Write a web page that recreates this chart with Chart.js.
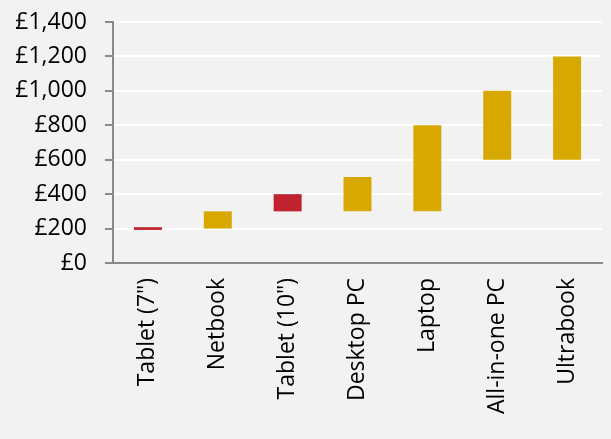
<!DOCTYPE html>
<html>
<head>
<meta charset="utf-8">
<script src="https://cdn.jsdelivr.net/npm/chart.js@4"></script>
<style>
  html, body { margin: 0; padding: 0; background: #f2f2f2; }
  #wrap { width: 611px; height: 439px; position: relative; }
</style>
</head>
<body>
<div id="wrap"><canvas id="c" width="611" height="439"></canvas></div>
<script>
const categories = ['Tablet (7")', 'Netbook', 'Tablet (10")', 'Desktop PC', 'Laptop', 'All-in-one PC', 'Ultrabook'];
const lowValues  = [192, 200, 300, 300, 300, 600, 600];
const highValues = [208, 300, 400, 500, 800, 1000, 1200];
const barColors  = ['#c0232f', '#d6a800', '#c0232f', '#d6a800', '#d6a800', '#d6a800', '#d6a800'];
const yTicks = [0, 200, 400, 600, 800, 1000, 1200, 1400];

const FONT = "'Open Sans', 'Noto Sans', sans-serif";

const bgPlugin = {
  id: 'bg',
  beforeDraw(chart) {
    const ctx = chart.ctx;
    ctx.save();
    ctx.fillStyle = '#f2f2f2';
    ctx.fillRect(0, 0, chart.width, chart.height);
    ctx.restore();
  }
};

new Chart(document.getElementById('c'), {
  type: 'bar',
  data: {
    labels: categories,
    datasets: [{
      data: categories.map((_, i) => [lowValues[i], highValues[i]]),
      backgroundColor: barColors,
      borderWidth: 0,
      barPercentage: 0.4,
      categoryPercentage: 1.0
    }]
  },
  options: {
    responsive: false,
    animation: false,
    devicePixelRatio: 1,
    layout: { padding: { top: 22, right: 9, left: 0, bottom: 0 } },
    plugins: { legend: { display: false }, tooltip: { enabled: false } },
    scales: {
      x: {
        grid: { display: false, drawTicks: false },
        border: { display: true, color: '#898989', width: 2 },
        ticks: {
          color: '#000',
          font: { family: FONT, size: 23 },
          minRotation: 90, maxRotation: 90,
          padding: 15, autoSkip: false
        },
        afterFit(scale) { scale.height = 176; scale.paddingLeft = 0; scale.paddingRight = 0; }
      },
      y: {
        min: 0, max: 1400,
        afterBuildTicks(scale) { scale.ticks = yTicks.map(v => ({ value: v })); },
        grid: { color: '#ffffff', lineWidth: 2, tickColor: '#898989', tickLength: 8, tickWidth: 2 },
        border: { display: true, color: '#898989', width: 2 },
        ticks: {
          color: '#000',
          font: { family: FONT, size: 23 },
          padding: 18,
          callback: v => '£' + v.toLocaleString('en-GB')
        },
        afterFit(scale) { scale.width = 113; scale.paddingTop = 0; scale.paddingBottom = 0; }
      }
    }
  },
  plugins: [bgPlugin]
});
</script>
</body>
</html>
